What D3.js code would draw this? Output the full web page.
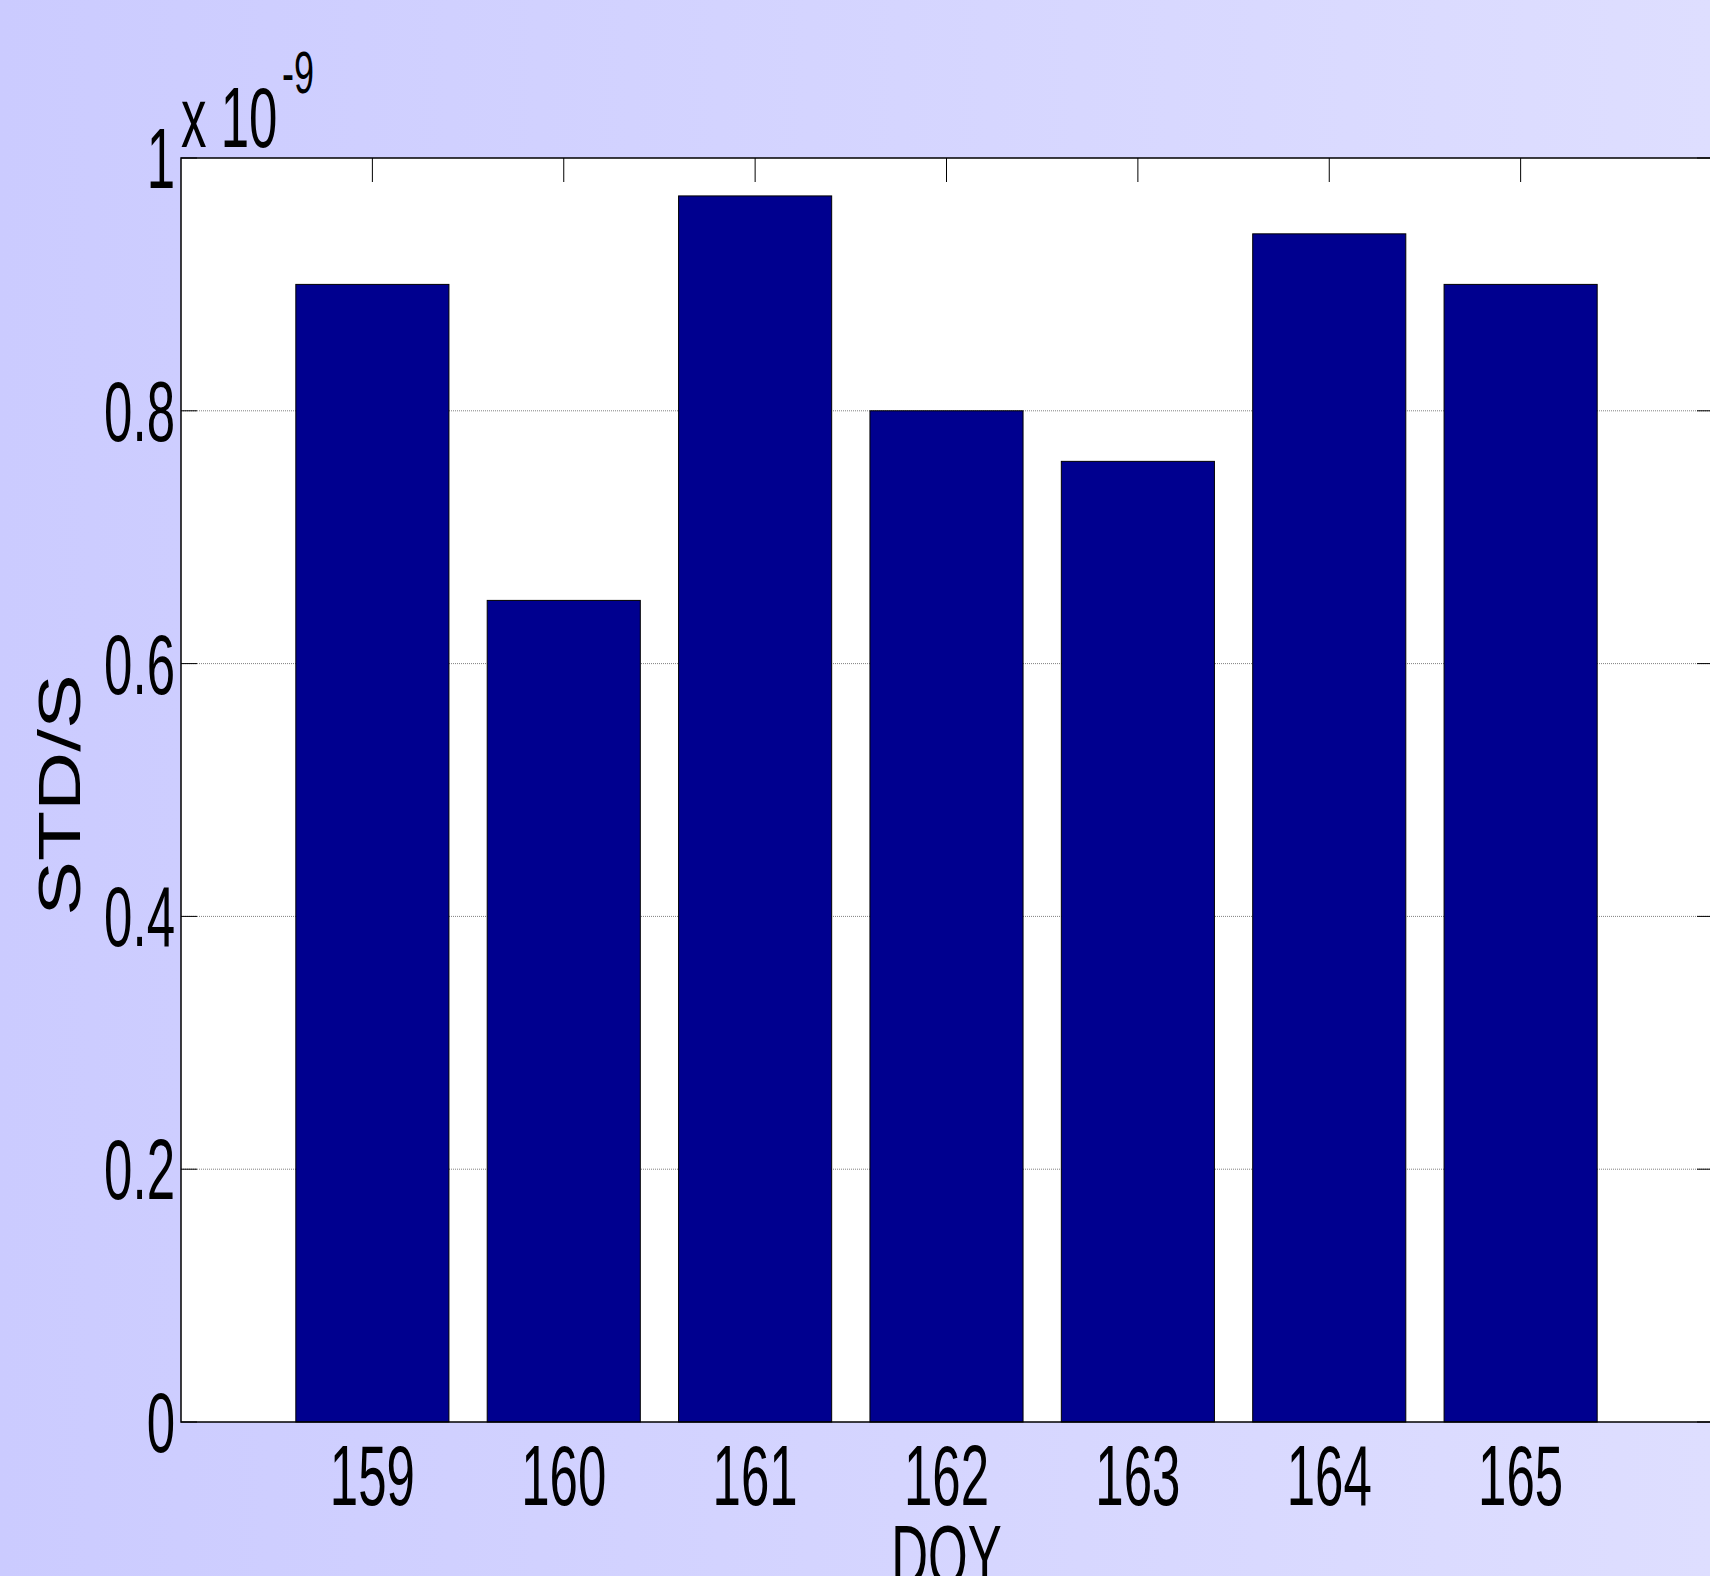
<!DOCTYPE html>
<meta charset="utf-8">
<style>
body { margin: 0; }
text { font-family: "Liberation Sans", Arial, sans-serif; fill: #000; }
</style>
<svg width="1710" height="1576"></svg>
<script src="https://d3js.org/d3.v7.min.js"></script>
<script>
// day of year and std/s values
var days = [159, 160, 161, 162, 163, 164, 165];
var values = [0.90e-9, 0.65e-9, 0.97e-9, 0.80e-9, 0.76e-9, 0.94e-9, 0.90e-9];
var yTicks = [0, 0.2e-9, 0.4e-9, 0.6e-9, 0.8e-9, 1e-9];
var yTickLabels = ["0", "0.2", "0.4", "0.6", "0.8", "1"];

var svg = d3.select("svg"),
    width = +svg.attr("width"),
    height = +svg.attr("height");

// plot box (right side runs just past the picture)
var pLeft = 181, pRight = 1712, pTop = 158, pBottom = 1422;
var k = 0.6; // text is squashed sideways in the original

var x = d3.scaleLinear().domain([158, 166]).range([pLeft, pRight]);
var y = d3.scaleLinear().domain([0, 1e-9]).range([pBottom, pTop]);

// background
var grad = svg.append("defs").append("linearGradient")
    .attr("id", "bg").attr("x1", 0).attr("x2", 1).attr("y1", 0).attr("y2", 0);
grad.append("stop").attr("offset", "0%").attr("stop-color", "#cbcbff");
grad.append("stop").attr("offset", "100%").attr("stop-color", "#dedeff");
svg.append("rect").attr("width", width).attr("height", height).attr("fill", "url(#bg)");

svg.append("rect")
    .attr("x", pLeft).attr("y", pTop)
    .attr("width", pRight - pLeft).attr("height", pBottom - pTop)
    .attr("fill", "#fff");

// grid
svg.append("g").selectAll("line")
  .data(yTicks.slice(1, -1))
  .enter().append("line")
    .attr("x1", pLeft).attr("x2", pRight)
    .attr("y1", function(d) { return y(d); })
    .attr("y2", function(d) { return y(d); })
    .attr("stroke", "#808080")
    .attr("stroke-dasharray", "1,1");

// bars
svg.append("g").selectAll("rect")
  .data(days)
  .enter().append("rect")
    .attr("x", function(d) { return x(d - 0.4); })
    .attr("width", function(d) { return x(d + 0.4) - x(d - 0.4); })
    .attr("y", function(d, i) { return y(values[i]); })
    .attr("height", function(d, i) { return y(0) - y(values[i]); })
    .attr("fill", "#00008f")
    .attr("stroke", "#000")
    .attr("stroke-width", 1);

// box
svg.append("rect")
    .attr("x", pLeft).attr("y", pTop)
    .attr("width", pRight - pLeft).attr("height", pBottom - pTop)
    .attr("fill", "none").attr("stroke", "#000").attr("stroke-width", 1.5);

// ticks
var ticks = svg.append("g").attr("stroke", "#000").attr("stroke-width", 1);
ticks.selectAll(".yl").data(yTicks).enter().append("line")
    .attr("x1", pLeft).attr("x2", pLeft + 16)
    .attr("y1", function(d) { return y(d); }).attr("y2", function(d) { return y(d); });
ticks.selectAll(".yr").data(yTicks).enter().append("line")
    .attr("x1", pRight).attr("x2", pRight - 15)
    .attr("y1", function(d) { return y(d); }).attr("y2", function(d) { return y(d); });
ticks.selectAll(".xt").data(days).enter().append("line")
    .attr("x1", function(d) { return x(d); }).attr("x2", function(d) { return x(d); })
    .attr("y1", pTop).attr("y2", pTop + 24);

// tick labels
svg.append("g").selectAll("g")
  .data(days)
  .enter().append("g")
    .attr("transform", function(d) { return "translate(" + x(d) + ",1505) scale(" + k + ",1)"; })
  .append("text")
    .attr("text-anchor", "middle")
    .attr("font-size", 85)
    .text(function(d) { return d; });

svg.append("g").selectAll("g")
  .data(yTicks)
  .enter().append("g")
    .attr("transform", function(d) { return "translate(175," + (y(d) + 30) + ") scale(" + k + ",1)"; })
  .append("text")
    .attr("text-anchor", "end")
    .attr("font-size", 85)
    .text(function(d, i) { return yTickLabels[i]; });

// exponent
svg.append("g").attr("transform", "translate(181,147) scale(" + k + ",1)")
  .append("text").attr("font-size", 85).text("x 10");
svg.append("g").attr("transform", "translate(282,93) scale(" + k + ",1)")
  .append("text").attr("font-size", 60).text("-9");

// axis titles
svg.append("g").attr("transform", "translate(" + ((pLeft + pRight) / 2) + ",1585) scale(" + k + ",1)")
  .append("text").attr("text-anchor", "middle").attr("font-size", 85).text("DOY");
svg.append("g").attr("transform", "translate(80,795) scale(0.715,1) rotate(-90)")
  .append("text").attr("text-anchor", "middle").attr("font-size", 82).text("STD/S");
</script>
